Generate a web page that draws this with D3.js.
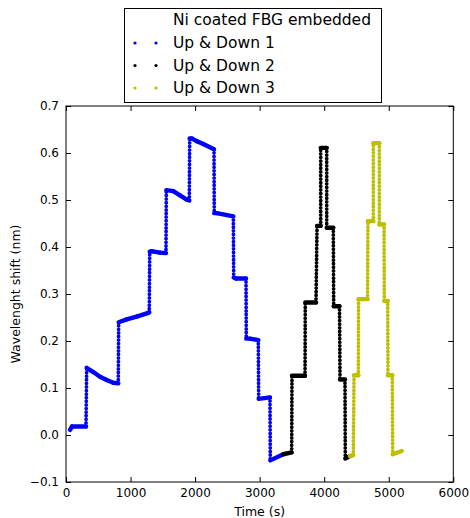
<!DOCTYPE html>
<html><head><meta charset="utf-8">
<script src="https://cdn.jsdelivr.net/npm/d3@7"></script>
<style>
body{margin:0;background:#fff}
svg{display:block}
text{font-family:"DejaVu Sans",sans-serif;fill:#000}
</style>
</head><body>
<svg id="chart" width="470" height="518"></svg>
<script>
// ---- data ----
const xTicks = [0, 1000, 2000, 3000, 4000, 5000, 6000];
const yTicks = [-0.1, 0.0, 0.1, 0.2, 0.3, 0.4, 0.5, 0.6, 0.7];
const legendTitle = "Ni coated FBG embedded";
const seriesNames = ["Up & Down 1", "Up & Down 2", "Up & Down 3"];
const seriesColors = ["#0000ff", "#000000", "#bfbf00"];

const time1 = [62, 93, 310, 320, 423, 527, 630, 733, 810, 816, 940, 1095, 1275, 1290, 1297, 1328, 1456, 1549, 1554, 1662, 1766, 1870, 1910, 1916, 1947, 2029, 2127, 2293, 2297, 2335, 2592, 2598, 2634, 2789, 2793, 2850, 2979, 2985, 3160, 3165, 3366];
const shift1 = [0.011, 0.018, 0.018, 0.143, 0.134, 0.124, 0.117, 0.111, 0.110, 0.240, 0.246, 0.252, 0.260, 0.261, 0.390, 0.391, 0.388, 0.387, 0.521, 0.519, 0.510, 0.501, 0.499, 0.631, 0.631, 0.625, 0.619, 0.608, 0.472, 0.472, 0.465, 0.335, 0.333, 0.333, 0.205, 0.205, 0.202, 0.077, 0.080, -0.054, -0.041];

const time2 = [3366, 3496, 3501, 3703, 3707, 3873, 3889, 3946, 3946, 4039, 4039, 4141, 4147, 4237, 4245, 4322, 4327, 4400];
const shift2 = [-0.041, -0.037, 0.126, 0.126, 0.282, 0.282, 0.445, 0.445, 0.611, 0.611, 0.441, 0.441, 0.274, 0.274, 0.118, 0.118, -0.050, -0.045];

const time3 = [4400, 4451, 4462, 4529, 4532, 4671, 4678, 4761, 4761, 4854, 4854, 4927, 4931, 4984, 4988, 5055, 5061, 5201];
const shift3 = [-0.045, -0.043, 0.127, 0.127, 0.289, 0.289, 0.455, 0.455, 0.621, 0.621, 0.448, 0.448, 0.285, 0.285, 0.127, 0.127, -0.041, -0.034];

// ---- layout ----
const W = 470, H = 518;
const m = {left: 66, right: 16.7, top: 106, bottom: 36};
const svg = d3.select("#chart");
const x = d3.scaleLinear().domain([0, 6000]).range([m.left, W - m.right]);
const y = d3.scaleLinear().domain([-0.1, 0.7]).range([H - m.bottom, m.top]);

const series = [
  {name: seriesNames[0], color: seriesColors[0], t: time1, v: shift1},
  {name: seriesNames[1], color: seriesColors[1], t: time2, v: shift2},
  {name: seriesNames[2], color: seriesColors[2], t: time3, v: shift3}
];

// ---- data marks: densely sampled markers along each recorded path ----
const plot = svg.append("g");
const line = d3.line().x(d => x(d[0])).y(d => y(d[1]));
series.forEach(s => {
  const pts = s.t.map((t, i) => [t, s.v[i]]);
  for (let i = 1; i < pts.length; i++) {
    const a = pts[i - 1], b = pts[i];
    const dx = Math.abs(x(b[0]) - x(a[0])), dy = Math.abs(y(b[1]) - y(a[1]));
    const steep = dy > 2 * dx;
    plot.append("path")
      .attr("d", line([a, b]))
      .attr("fill", "none")
      .attr("stroke", s.color)
      .attr("stroke-linecap", "round")
      .attr("stroke-linejoin", "round")
      .attr("stroke-width", steep ? 3.8 : 4.4)
      .attr("stroke-dasharray", steep ? "0 3.6" : null);
  }
});

// ---- axes (classic style: ticks inside on all four sides) ----
const fmtY = d3.format(".1f");
const axB = svg.append("g").attr("transform", `translate(0,${H - m.bottom})`)
  .call(d3.axisBottom(x).tickValues(xTicks).tickFormat(d3.format("d")).tickSizeInner(-5).tickSizeOuter(0).tickPadding(6));
const axT = svg.append("g").attr("transform", `translate(0,${m.top})`)
  .call(d3.axisTop(x).tickValues(xTicks).tickFormat("").tickSizeInner(-5).tickSizeOuter(0));
const axL = svg.append("g").attr("transform", `translate(${m.left},0)`)
  .call(d3.axisLeft(y).tickValues(yTicks).tickFormat(fmtY).tickSizeInner(-5).tickSizeOuter(0).tickPadding(7));
const axR = svg.append("g").attr("transform", `translate(${W - m.right},0)`)
  .call(d3.axisRight(y).tickValues(yTicks).tickFormat("").tickSizeInner(-5).tickSizeOuter(0));
[axB, axT, axL, axR].forEach(g => {
  g.select(".domain").remove();
  g.selectAll("text").attr("font-size", 12).attr("font-family", "DejaVu Sans, sans-serif").attr("fill", "#000");
  g.selectAll("line").attr("stroke", "#000");
});
svg.append("rect")
  .attr("x", x(0)).attr("y", y(0.7))
  .attr("width", x(6000) - x(0)).attr("height", y(-0.1) - y(0.7))
  .attr("fill", "none").attr("stroke", "#000").attr("stroke-width", 1);

svg.append("text").attr("x", (x(0) + x(6000)) / 2).attr("y", 516)
  .attr("text-anchor", "middle").attr("font-size", 12.5).text("Time (s)");
svg.append("text").attr("transform", `translate(20,${(y(0.7) + y(-0.1)) / 2}) rotate(-90)`)
  .attr("text-anchor", "middle").attr("font-size", 12.5).text("Wavelenght shift (nm)");

// ---- legend ----
const lg = svg.append("g");
lg.append("rect").attr("x", 124.5).attr("y", 8.5).attr("width", 257).attr("height", 94)
  .attr("fill", "#fff").attr("stroke", "#000").attr("stroke-width", 1);
lg.append("text").attr("x", 173).attr("y", 20).attr("dy", "0.35em").attr("font-size", 15.5).text(legendTitle);
series.forEach((s, i) => {
  const cy = 43 + i * 22.5;
  [135, 156].forEach(cx => lg.append("circle").attr("cx", cx).attr("cy", cy).attr("r", 1.6).attr("fill", s.color));
  lg.append("text").attr("x", 173).attr("y", cy).attr("dy", "0.35em").attr("font-size", 15.5).text(s.name);
});
</script>
</body></html>
